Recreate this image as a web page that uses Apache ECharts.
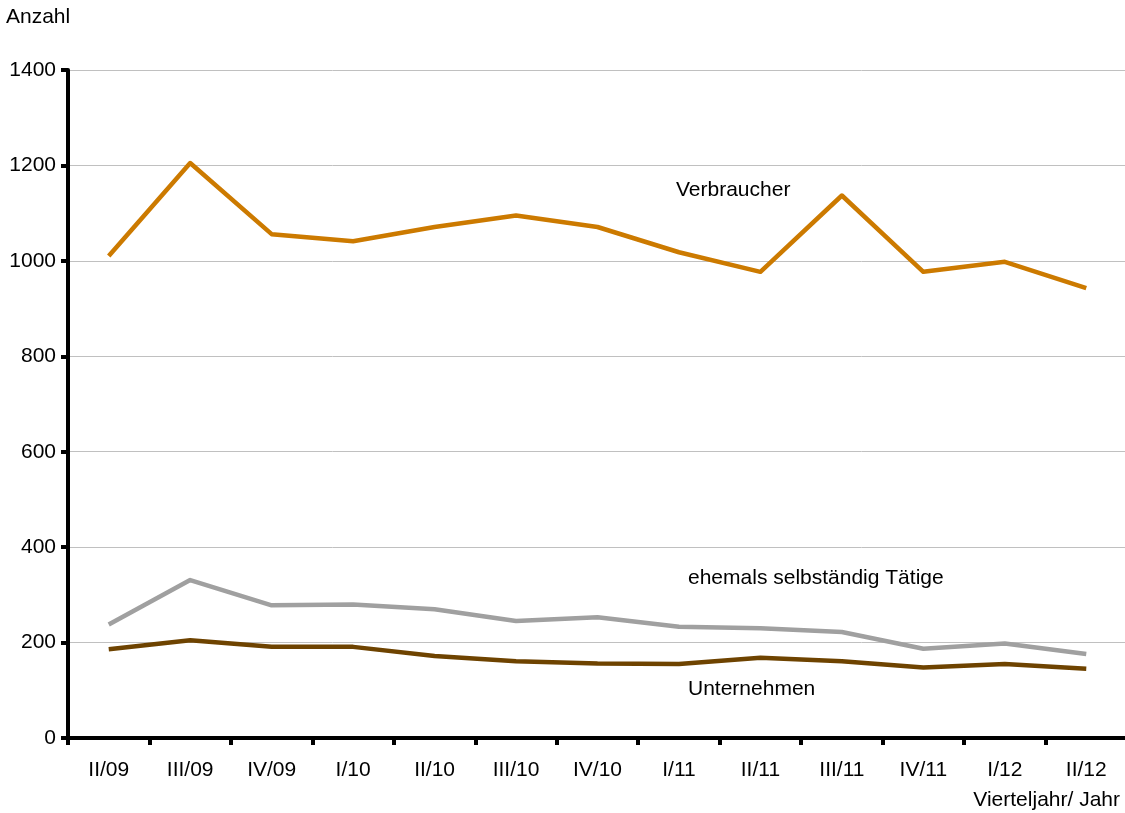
<!DOCTYPE html>
<html>
<head>
<meta charset="utf-8">
<script src="https://cdn.jsdelivr.net/npm/echarts@6/dist/echarts.min.js"></script>
<style>
  html, body { margin: 0; padding: 0; background: #fff; }
  #chart { width: 1125px; height: 813px; }
</style>
</head>
<body>
<div id="chart"></div>
<script>
const quarters = ['II/09','III/09','IV/09','I/10','II/10','III/10','IV/10','I/11','II/11','III/11','IV/11','I/12','II/12'];
const verbraucher = [1010, 1205, 1056, 1041, 1071, 1095, 1071, 1018, 977, 1137, 977, 998, 943];
const ehemals = [238, 331, 278, 280, 270, 245, 253, 233, 230, 222, 187, 198, 176];
const unternehmen = [186, 205, 191, 191, 172, 161, 156, 155, 168, 161, 148, 155, 145];
const yTicks = [0, 200, 400, 600, 800, 1000, 1200, 1400];

const font = 'Liberation Sans, Arial, sans-serif';
const fs = 21;

var myChart = echarts.init(document.getElementById('chart'), null, { renderer: 'canvas' });

const lineSeries = (name, data, color) => ({
    name: name,
    type: 'line',
    data: data,
    symbol: 'none',
    lineStyle: { color: color, width: 4.5, join: 'round' },
    itemStyle: { color: color },
    z: 3
});

var option = {
    animation: false,
    backgroundColor: '#fff',
    grid: { left: 68, right: -2, top: 70, bottom: 75, outerBoundsMode: 'none' },
    xAxis: {
        type: 'category',
        data: quarters,
        boundaryGap: true,
        axisLine: { lineStyle: { color: '#000', width: 4 } },
        axisTick: { show: true, length: 7, lineStyle: { color: '#000', width: 4 } },
        axisLabel: { color: '#000', fontFamily: font, fontSize: fs, margin: 22 },
        name: 'Vierteljahr/ Jahr',
        nameLocation: 'end',
        nameGap: 0,
        nameTextStyle: { color: '#000', fontFamily: font, fontSize: fs, align: 'right', verticalAlign: 'top', padding: [52, 7, 0, 0] }
    },
    yAxis: {
        type: 'value',
        min: yTicks[0],
        max: yTicks[yTicks.length - 1],
        interval: 200,
        axisLine: { show: true, lineStyle: { color: '#000', width: 4 } },
        axisTick: { show: true, length: 7, lineStyle: { color: '#000', width: 4 } },
        axisLabel: { color: '#000', fontFamily: font, fontSize: fs, margin: 12, formatter: v => String(v) },
        splitLine: { show: true, lineStyle: { color: '#c0c0c0', width: 1 } },
        name: 'Anzahl',
        nameLocation: 'end',
        nameGap: 0,
        nameTextStyle: { color: '#000', fontFamily: font, fontSize: fs, align: 'left', verticalAlign: 'bottom', padding: [0, 0, 42, -62] }
    },
    graphic: [
        { type: 'text', left: 676, top: 180, style: { text: 'Verbraucher', font: fs + 'px ' + font, fill: '#000' } },
        { type: 'text', left: 688, top: 568, style: { text: 'ehemals selbständig Tätige', font: fs + 'px ' + font, fill: '#000' } },
        { type: 'text', left: 688, top: 679, style: { text: 'Unternehmen', font: fs + 'px ' + font, fill: '#000' } }
    ],
    series: [
        lineSeries('Verbraucher', verbraucher, '#CC7A00'),
        lineSeries('ehemals selbständig Tätige', ehemals, '#A0A0A0'),
        lineSeries('Unternehmen', unternehmen, '#6E4300')
    ]
};

myChart.setOption(option);
</script>
</body>
</html>
